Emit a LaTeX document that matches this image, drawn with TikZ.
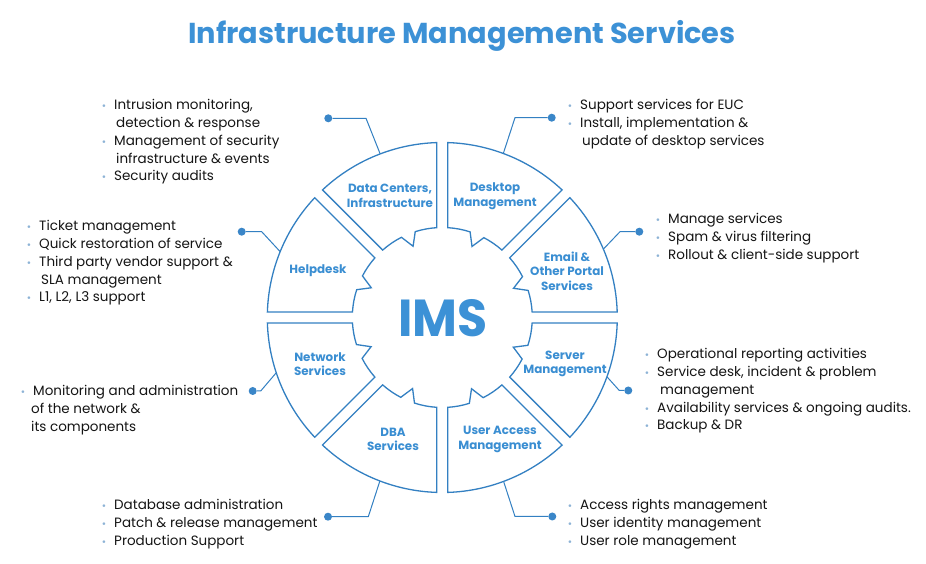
\documentclass[tikz,border=0pt]{standalone}
\usepackage{fontspec}
\setmainfont{Poppins}
\newfontfamily\bulfont{DejaVu Sans}
\usetikzlibrary{calc}
\definecolor{ringblue}{HTML}{3380C2}
\definecolor{labblue}{HTML}{3A8ED2}
\definecolor{titleblue}{HTML}{3C91D6}
\definecolor{dotblue}{HTML}{3A86C8}
\definecolor{bulc}{HTML}{8DB3D6}
\definecolor{txt}{HTML}{151515}
\newcommand{\bul}{\llap{{\bulfont\fontsize{9}{9}\selectfont\color{bulc}•}\hspace{7.5pt}}}
\begin{document}
\begin{tikzpicture}[x=1pt,y=1pt]
\tikzset{
 seg/.style={draw=ringblue, line width=1.3pt, line join=miter},
 conn/.style={draw=ringblue, line width=1pt},
 dotn/.style={circle, fill=dotblue, inner sep=0pt, minimum size=8pt},
 lab/.style={text=labblue, font=\bfseries\fontsize{11.9}{14.5}\selectfont, align=center, inner sep=0pt},
 lst/.style={anchor=base west, inner sep=0pt, font=\fontsize{13.5}{17.75}\selectfont, text=txt},
}
\fill[white] (0,0) rectangle (926,564);
\useasboundingbox (0,0) rectangle (926,564);
\coordinate (C) at (442.3,246.5);
% ring segments
\foreach \k in {0,...,7} {
  \pgfmathsetmacro\a{45*\k}
  \draw[seg] ($(C)+(\a+3.5:90)$) -- ($(C)+(\a+1.8:175)$)
    arc[start angle=\a+1.8, end angle=\a+43.2, radius=175]
    -- ($(C)+(\a+41.5:90)$)
    arc[start angle=\a+41.5, end angle=\a+27, radius=90]
    -- ($(C)+(\a+22.3:77)$) -- ($(C)+(\a+17.5:90)$)
    arc[start angle=\a+17.5, end angle=\a+3.5, radius=90] -- cycle;
}
% title and centre
\node[font=\bfseries\fontsize{28.8}{30}\selectfont, text=titleblue] (title) at (462,528) {Infrastructure Management Services};
\node[font=\bfseries\fontsize{52}{52}\selectfont, text=titleblue, inner sep=0pt] (ims) at (443,246) {\scalebox{0.94}[1]{IMS}};
% segment labels
\node[lab] (lDC) at (390,368) {Data Centers,\\Infrastructure};
\node[lab] (lDesk) at (495,368) {Desktop\\Management};
\node[lab] (lEmail) at (567,293) {Email \&\\Other Portal\\Services};
\node[lab] (lSrv) at (565,200) {Server\\Management};
\node[lab] (lUA) at (500,124.5) {User Access\\Management};
\node[lab] (lDBA) at (393,124.5) {DBA\\Services};
\node[lab] (lNet) at (320,200) {Network\\Services};
\node[lab] (lHelp) at (318,293) {Helpdesk};
% connectors
\coordinate (aDC) at ($(C)+(110.8:175)$);
\coordinate (eDC) at (366,445.7);
\node[dotn] (dDC) at (328.3,445.7) {};
\draw[conn] (aDC) -- (eDC) -- (dDC);
\coordinate (aDesk) at ($(C)+(69.6:175)$);
\coordinate (eDesk) at (515,446.3);
\node[dotn] (dDesk) at (551.7,446.3) {};
\draw[conn] (aDesk) -- (eDesk) -- (dDesk);
\coordinate (aEmail) at ($(C)+(23:175)$);
\coordinate (eEmail) at (620,332.3);
\node[dotn] (dEmail) at (639.3,332.3) {};
\draw[conn] (aEmail) -- (eEmail) -- (dEmail);
\coordinate (aSrv) at ($(C)+(-19.8:175)$);
\coordinate (eSrv) at (619.3,173.5);
\node[dotn] (dSrv) at (628.3,173.5) {};
\draw[conn] (aSrv) -- (eSrv) -- (dSrv);
\coordinate (aUA) at ($(C)+(-69.5:175)$);
\coordinate (eUA) at (515,47.5);
\node[dotn] (dUA) at (552.3,47.5) {};
\draw[conn] (aUA) -- (eUA) -- (dUA);
\coordinate (aDBA) at ($(C)+(-110.9:175)$);
\coordinate (eDBA) at (368.3,47.3);
\node[dotn] (dDBA) at (328,47.3) {};
\draw[conn] (aDBA) -- (eDBA) -- (dDBA);
\coordinate (aNet) at ($(C)+(-161.6:175)$);
\coordinate (eNet) at (260.7,173);
\node[dotn] (dNet) at (252.7,173) {};
\draw[conn] (aNet) -- (eNet) -- (dNet);
\coordinate (aHelp) at ($(C)+(157.9:175)$);
\coordinate (eHelp) at (261.7,332.3);
\node[dotn] (dHelp) at (241.7,332.3) {};
\draw[conn] (aHelp) -- (eHelp) -- (dHelp);
% lists
\node[lst] (tDC) at (114,454) {\begin{tabular}[t]{@{}l@{}}\bul Intrusion monitoring,\\ \hspace{2pt}detection \& response\\ \bul Management of security\\ \hspace{2pt}infrastructure \& events\\ \bul Security audits\end{tabular}};
\node[lst] (tDesk) at (580,454) {\begin{tabular}[t]{@{}l@{}}\bul Support services for EUC\\ \bul Install, implementation \&\\ \hspace{2pt}update of desktop services\end{tabular}};
\node[lst] (tEmail) at (668,340) {\begin{tabular}[t]{@{}l@{}}\bul Manage services\\ \bul Spam \& virus filtering\\ \bul Rollout \& client-side support\end{tabular}};
\node[lst] (tHelp) at (39,333) {\begin{tabular}[t]{@{}l@{}}\bul Ticket management\\ \bul Quick restoration of service\\ \bul Third party vendor support \&\\ \hspace{2pt}SLA management\\ \bul L1, L2, L3 support\end{tabular}};
\node[lst] (tSrv) at (657,205) {\begin{tabular}[t]{@{}l@{}}\bul Operational reporting activities\\ \bul Service desk, incident \& problem\\ \hspace{3pt}management\\ \bul Availability services \& ongoing audits.\\ \bul Backup \& DR\end{tabular}};
\node[lst] (tNet) at (33,168) {\begin{tabular}[t]{@{}l@{}}\bul Monitoring and administration\\ \hspace{-2pt}of the network \&\\ \hspace{-2pt}its components\end{tabular}};
\node[lst] (tDBA) at (114,54) {\begin{tabular}[t]{@{}l@{}}\bul Database administration\\ \bul Patch \& release management\\ \bul Production Support\end{tabular}};
\node[lst] (tUA) at (580,54) {\begin{tabular}[t]{@{}l@{}}\bul Access rights management\\ \bul User identity management\\ \bul User role management\end{tabular}};
\end{tikzpicture}
\end{document}
